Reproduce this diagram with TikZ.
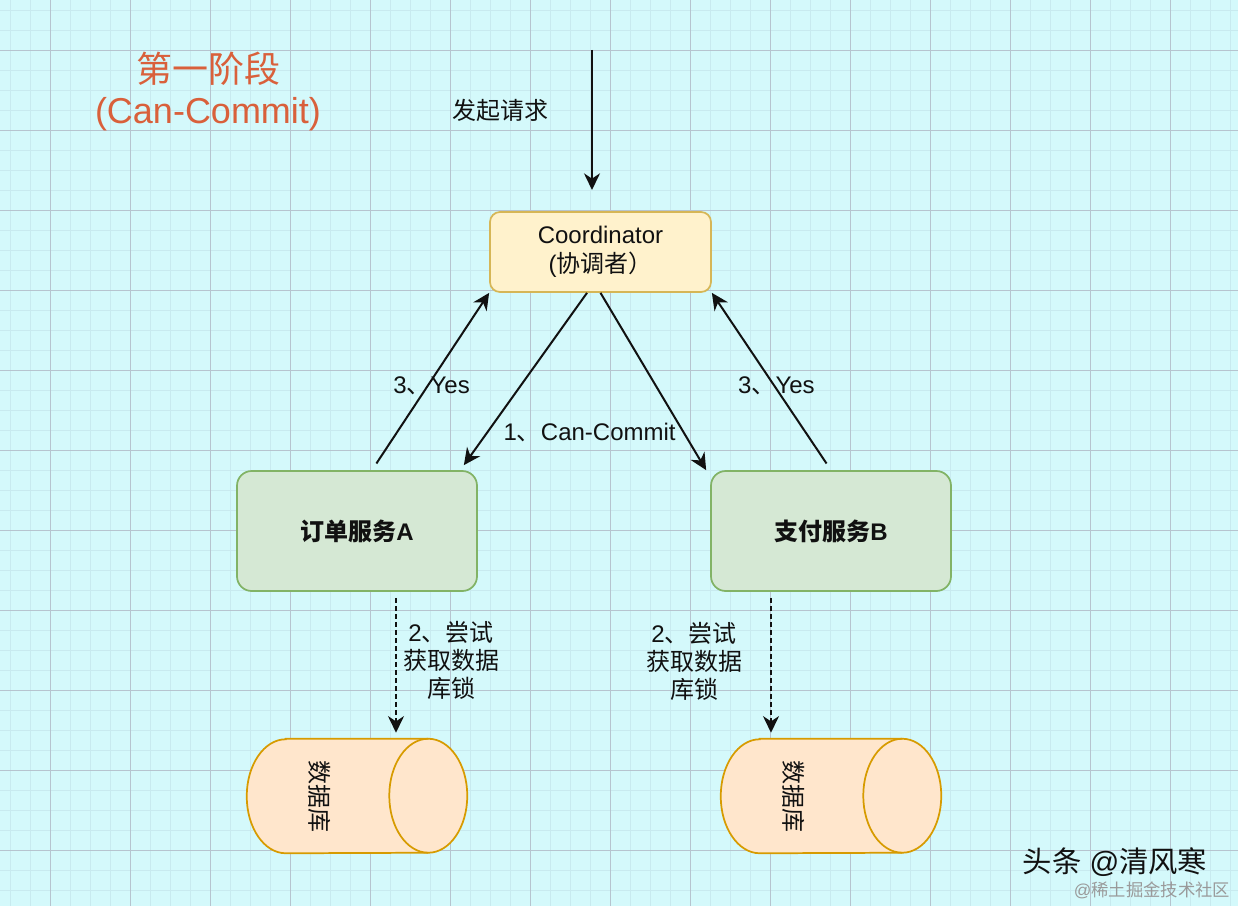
\documentclass[tikz,border=0pt]{standalone}
\usepackage{fontspec}
\setmainfont{Liberation Sans}
\newfontfamily\cjkfont{Noto Sans CJK SC}
\usetikzlibrary{arrows.meta}
\definecolor{paper}{HTML}{D4F9FB}
\definecolor{gridminor}{HTML}{C8EAEF}
\definecolor{gridmajor}{HTML}{B6C4CF}
\definecolor{phasered}{HTML}{D9603B}
\definecolor{coordfill}{HTML}{FFF2CC}
\definecolor{coordline}{HTML}{D6B656}
\definecolor{svcfill}{HTML}{D5E8D4}
\definecolor{svcline}{HTML}{82B366}
\definecolor{dbfill}{HTML}{FFE6CC}
\definecolor{dbline}{HTML}{D79B00}
\definecolor{ink}{HTML}{111111}
\definecolor{markgray}{HTML}{9A9A9A}
\tikzset{
  coordbox/.style={
    draw=coordline,
    fill=coordfill,
    rounded corners=7.5pt,
    line width=1.3pt,
    minimum width=165.75pt,
    minimum height=60pt,
    align=center,
    font=\fontsize{18pt}{21.75pt}\selectfont,
    text=ink
  },
  service/.style={
    draw=svcline,
    fill=svcfill,
    rounded corners=11pt,
    line width=1.3pt,
    minimum width=180pt,
    minimum height=90pt,
    font=\fontsize{18pt}{21pt}\selectfont\bfseries,
    text=ink
  },
  database/.style={
    inner sep=0pt,
    minimum width=165pt,
    minimum height=85.5pt
  },
  db outline/.style={draw=dbline,fill=dbfill,line width=1.3pt},
  db label/.style={rotate=-90,font=\fontsize{18pt}{21pt}\selectfont,text=ink},
  phase title/.style={
    align=center,
    font=\fontsize{27pt}{30.75pt}\selectfont,
    text=phasered
  },
  flow/.style={-{Stealth[length=12.5pt,width=12pt,inset=4pt]},line width=1.5pt,draw=ink},
  lock flow/.style={flow,dash pattern=on 3.75pt off 2.25pt},
  edge label/.style={
    inner sep=0pt,
    font=\fontsize{18pt}{21pt}\selectfont,
    text=ink,
    align=center
  },
  mark big/.style={font=\fontsize{22pt}{24pt}\selectfont,text=ink},
  mark small/.style={font=\fontsize{13pt}{15pt}\selectfont,text=markgray}
}
\newcommand{\zhText}[1]{{\cjkfont #1}}
% horizontal drum round a database node, cap on the right
\newcommand{\drawDrum}[1]{%
  \draw[db outline] ([xshift=29.25pt]#1.north west) -- ([xshift=-29.25pt]#1.north east)
    arc[start angle=90,end angle=-90,x radius=29.25pt,y radius=42.75pt]
    -- ([xshift=29.25pt]#1.south west)
    arc[start angle=270,end angle=90,x radius=29.25pt,y radius=42.75pt] -- cycle;
  \draw[db outline,fill=none] ([xshift=-29.25pt]#1.north east)
    arc[start angle=90,end angle=270,x radius=29.25pt,y radius=42.75pt];%
}

\begin{document}
\begin{tikzpicture}[x=0.75pt,y=-0.75pt]
  \useasboundingbox (0,0) rectangle (1238,906);
  % paper and grid
  \fill[paper] (0,0) rectangle (1238,906);
  \foreach \gx in {10,30,...,1230}
    \draw[gridminor,line width=0.6pt] (\gx,0) -- (\gx,906);
  \foreach \gy in {10,30,...,890}
    \draw[gridminor,line width=0.6pt] (0,\gy) -- (1238,\gy);
  \foreach \gx in {50,130,...,1170}
    \draw[gridmajor,line width=0.7pt] (\gx,0) -- (\gx,906);
  \foreach \gy in {50,130,...,850}
    \draw[gridmajor,line width=0.7pt] (0,\gy) -- (1238,\gy);

  \node[phase title] (phase) at (208,91) {\zhText{第一阶段}\\(Can-Commit)};

  \node[coordbox] (coord) at (600.5,252) {Coordinator\\(\zhText{协调者）}};
  \node[service] (svcA) at (357,531) {\zhText{订单服务}A};
  \node[service] (svcB) at (831,531) {\zhText{支付服务}B};
  \node[database] (dbA) at (357,796) {};
  \node[database] (dbB) at (831,796) {};
  \drawDrum{dbA}
  \drawDrum{dbB}
  \node[db label] (dbAtext) at ([xshift=-27.75pt]dbA.center) {\zhText{数据库}};
  \node[db label] (dbBtext) at ([xshift=-27.75pt]dbB.center) {\zhText{数据库}};

  \coordinate (reqstart) at (592,50);
  \coordinate (reqend) at (592,190);

  \draw[flow] (reqstart) --
    node[edge label,left=32pt,yshift=7.5pt] {\zhText{发起请求}}
    (reqend);
  \draw[flow,shorten <=6pt] ([xshift=11.25pt]svcA.north) --
    node[edge label,xshift=0.75pt,yshift=-3pt] {3\zhText{、}Yes}
    (coord.south west);
  \draw[flow] ([xshift=-10.125pt]coord.south) --
    node[edge label,pos=0.81,anchor=west,xshift=11.5pt] {1\zhText{、}Can-Commit}
    ([xshift=-10.5pt,yshift=3.75pt]svcA.north east);
  \draw[flow] (coord.south) -- ([xshift=-3pt]svcB.north west);
  \draw[flow,shorten <=6pt] (svcB.north) --
    node[edge label,xshift=3.75pt,yshift=-3pt] {3\zhText{、}Yes}
    (coord.south east);

  \draw[lock flow,shorten <=4.5pt,shorten >=4.5pt]
    ([xshift=29.25pt]svcA.south) --
    node[edge label,anchor=west,xshift=4.5pt,yshift=3.75pt]
      {2\zhText{、尝试}\\\zhText{获取数据}\\\zhText{库锁}}
    ([xshift=29.25pt]svcA.south |- dbA.north);
  \draw[lock flow,shorten <=4.5pt,shorten >=4.5pt]
    ([xshift=-45pt]svcB.south) --
    node[edge label,anchor=east,xshift=-21pt,yshift=3pt]
      {2\zhText{、尝试}\\\zhText{获取数据}\\\zhText{库锁}}
    ([xshift=-45pt]svcB.south |- dbB.north);

  \node[mark big] (markname) at (1115,862) {\zhText{头条} @\zhText{清风寒}};
  \node[mark small] (marksite) at (1152,890) {@\zhText{稀土掘金技术社区}};
\end{tikzpicture}
\end{document}
